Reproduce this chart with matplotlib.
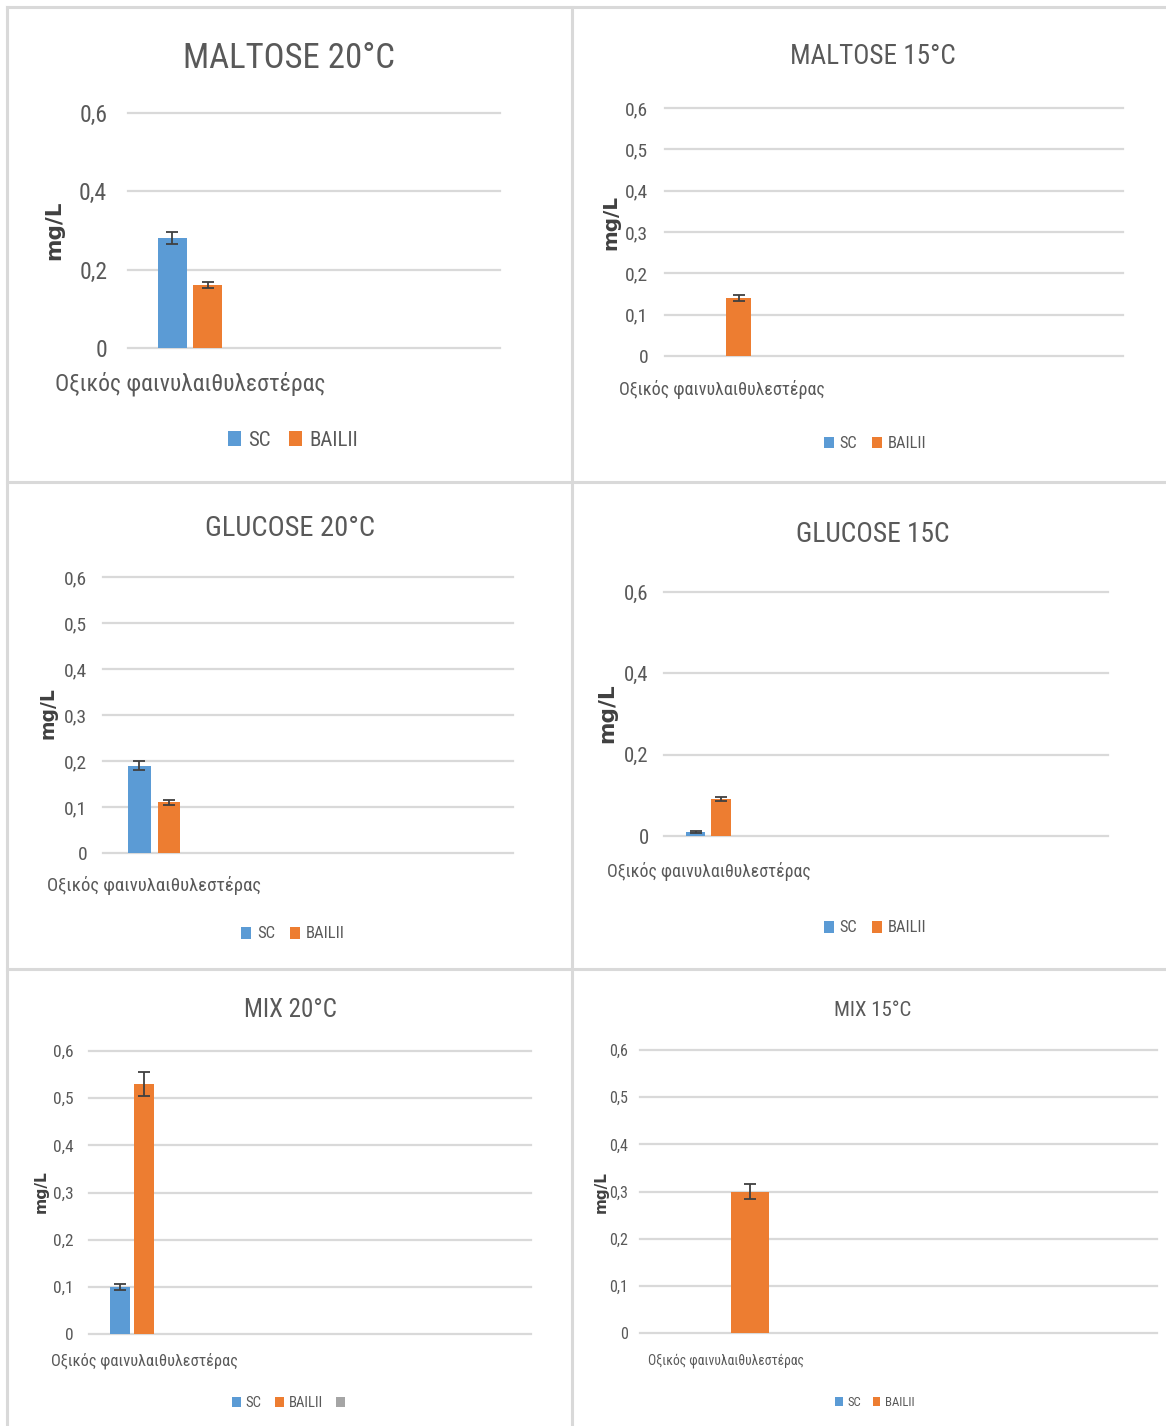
import numpy as np
import matplotlib
matplotlib.use("Agg")
import matplotlib.pyplot as plt
from matplotlib import font_manager as fm
from matplotlib.patches import Patch
from matplotlib.lines import Line2D

W, H = 1166, 1426

# values (mg/L) for the single category, one entry per chart
titles = ["MALTOSE 20°C", "MALTOSE 15°C", "GLUCOSE 20°C", "GLUCOSE 15C", "MIX 20°C", "MIX 15°C"]
category = "Οξικός φαινυλαιθυλεστέρας"
series_names = ["SC", "BAILII"]
sc_values = [0.28, 0.0, 0.19, 0.01, 0.10, 0.0]
sc_errors = [0.015, 0.0, 0.01, 0.002, 0.006, 0.0]
bailii_values = [0.16, 0.14, 0.11, 0.09, 0.53, 0.30]
bailii_errors = [0.008, 0.007, 0.005, 0.005, 0.026, 0.016]
# MIX 20°C has a third, empty series in its legend
extra_values = [None, None, None, None, 0.0, None]
y_ticks = [
    [0, 0.2, 0.4, 0.6],
    [0, 0.1, 0.2, 0.3, 0.4, 0.5, 0.6],
    [0, 0.1, 0.2, 0.3, 0.4, 0.5, 0.6],
    [0, 0.2, 0.4, 0.6],
    [0, 0.1, 0.2, 0.3, 0.4, 0.5, 0.6],
    [0, 0.1, 0.2, 0.3, 0.4, 0.5, 0.6],
]

BLUE = "#5b9bd5"
ORANGE = "#ed7d31"
GREY = "#a5a5a5"
TEXT = "#595959"
GRID = "#d9d9d9"


def narrow_font():
    # prefer a narrow / condensed sans face, Greek capable
    faces = fm.fontManager.ttflist
    for name in ["Liberation Sans Narrow", "Roboto Condensed", "Open Sans Condensed",
                 "Noto Sans", "Open Sans", "Roboto", "DejaVu Sans"]:
        for stretch in ["condensed", "semi-condensed"]:
            if any(f.name == name and f.stretch == stretch and f.style == "normal" for f in faces):
                return name, stretch
    names = {f.name for f in faces}
    for name in ["Roboto", "Liberation Sans"]:
        if name in names:
            return name, "normal"
    return "DejaVu Sans", "normal"


FONT, STRETCH = narrow_font()
plt.rcParams["font.family"] = [FONT, "DejaVu Sans"]
plt.rcParams["font.stretch"] = STRETCH

# layout of each chart in pixels: plot box, slots on the x axis, bar geometry, font sizes
layout = [
    dict(box=(128, 113, 500, 348), slots=3, width=0.23, step=0.286, title=(289, 59, 25),
         tick=(17, 15), cat=(17, 17), legend=(293, 440, 15), ylab=(54, 230, 15.5)),
    dict(box=(665, 108, 1123, 356), slots=4, width=0.22, step=0.288, title=(873, 57, 19.5),
         tick=(14, 12), cat=(13, 17), legend=(875, 444, 11.8), ylab=(611, 223, 14.4)),
    dict(box=(103, 577, 513, 853), slots=4, width=0.22, step=0.288, title=(290, 528, 20.5),
         tick=(14, 11.5), cat=(13.5, 16.5), legend=(293, 934, 12), ylab=(48, 713, 13.5)),
    dict(box=(664, 592, 1108, 836), slots=5, width=0.22, step=0.286, title=(873, 535, 19.8),
         tick=(15, 11), cat=(12.8, 18.5), legend=(875, 928, 11.8), ylab=(607, 713, 15.6)),
    dict(box=(89, 1051, 531, 1334), slots=4, width=0.18, step=0.222, title=(290, 1010, 18),
         tick=(12.5, 11), cat=(11.8, 13.5), legend=(291, 1403, 10.6), ylab=(41, 1192, 11.2)),
    dict(box=(640, 1050, 1157, 1333), slots=3, width=0.22, step=0.28, title=(873, 1010, 15),
         tick=(11.5, 8.5), cat=(9.8, 15), legend=(875, 1402, 9.2), ylab=(601, 1192, 11)),
]


def fx(x):
    return x / W


def fy(y):
    return 1 - y / H


def fmt(v):
    return "0" if v == 0 else f"{v:g}".replace(".", ",")


fig = plt.figure(figsize=(W / 100, H / 100), dpi=100)
fig.patch.set_facecolor("white")

# chart frames
for x in (7, 572):
    fig.add_artist(Line2D([fx(x), fx(x)], [fy(7), fy(1426)], color=GRID, lw=2.2))
for y in (7, 482, 969):
    fig.add_artist(Line2D([fx(7), fx(1166)], [fy(y), fy(y)], color=GRID, lw=2.2))

for i, p in enumerate(layout):
    x0, y0, x1, y1 = p["box"]
    ax = fig.add_axes([fx(x0), fy(y1), (x1 - x0) / W, (y1 - y0) / H])

    vals = [sc_values[i], bailii_values[i]]
    errs = [sc_errors[i], bailii_errors[i]]
    colors = [BLUE, ORANGE]
    names = list(series_names)
    if extra_values[i] is not None:
        vals.append(extra_values[i])
        errs.append(0.0)
        colors.append(GREY)
        names.append("")

    n = len(vals)
    offsets = (np.arange(n) - (n - 1) / 2) * p["step"]
    for v, e, c, off in zip(vals, errs, colors, offsets):
        ax.bar(off, v, width=p["width"], color=c, zorder=3)
        if e > 0:
            ax.errorbar(off, v, yerr=e, fmt="none", ecolor="#404040", elinewidth=1.3,
                        capsize=4, capthick=1.3, zorder=4)

    ax.set_xlim(-0.5, p["slots"] - 0.5)
    ax.set_ylim(0, 0.6)
    ax.set_yticks(y_ticks[i])
    ax.set_yticklabels([fmt(t) for t in y_ticks[i]])
    ax.set_xticks([0])
    ax.set_xticklabels([category])
    ax.yaxis.grid(True, color=GRID, lw=1.6)
    for gl in ax.get_ygridlines():
        gl.set_clip_on(False)
    ax.set_axisbelow(True)
    for s in ax.spines.values():
        s.set_visible(False)
    ax.tick_params(axis="y", length=0, labelsize=p["tick"][0], pad=p["tick"][1], labelcolor=TEXT)
    ax.tick_params(axis="x", length=0, labelsize=p["cat"][0], pad=p["cat"][1], labelcolor=TEXT)

    tx, ty, ts = p["title"]
    fig.text(fx(tx), fy(ty), titles[i], ha="center", va="center", fontsize=ts, color=TEXT)

    lx, ly, lz = p["ylab"]
    fig.text(fx(lx), fy(ly), "mg/L", rotation=90, ha="center", va="center", fontsize=lz,
             fontweight="bold", fontstretch="normal", color="#404040", family="DejaVu Sans")

    gx, gy, gs = p["legend"]
    handles = [Patch(facecolor=c, edgecolor="none") for c in colors]
    fig.legend(handles, names, loc="center", bbox_to_anchor=(fx(gx), fy(gy)), ncol=n,
               frameon=False, fontsize=gs, labelcolor=TEXT, handlelength=0.6,
               handleheight=0.7, handletextpad=0.35, columnspacing=0.9, borderpad=0)

fig.savefig("out.png", dpi=100)
